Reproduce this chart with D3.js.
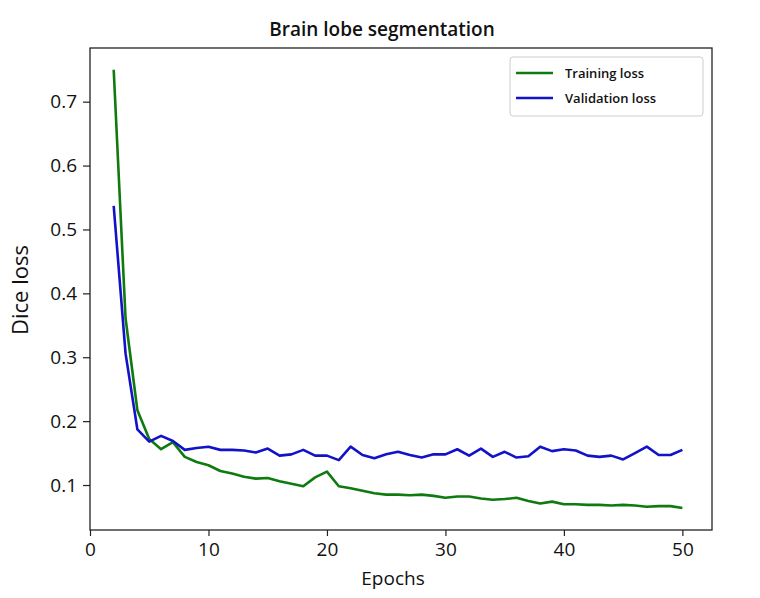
<!doctype html>
<html>
  <head>
    <meta charset="utf-8">
    <title>Brain lobe segmentation</title>
    <script src="https://cdnjs.cloudflare.com/ajax/libs/d3/7.8.5/d3.min.js"></script>
    <style>
      body { margin: 0; background: #fff; }
      text { font-family: "Open Sans", "Noto Sans", sans-serif; fill: #111; }
    </style>
  </head>
  <body>
    <div id="chart"></div>
    <script>
      // values, one per epoch (2..50)
      const epochs = d3.range(2, 51);
      const trainingLoss = [0.750, 0.361, 0.217, 0.172, 0.156, 0.167, 0.144, 0.136, 0.131, 0.122,
        0.118, 0.113, 0.110, 0.111, 0.106, 0.102, 0.098, 0.112, 0.121, 0.098,
        0.095, 0.091, 0.087, 0.085, 0.085, 0.084, 0.085, 0.083, 0.080, 0.082,
        0.082, 0.079, 0.077, 0.078, 0.080, 0.075, 0.071, 0.074, 0.070, 0.070,
        0.069, 0.069, 0.068, 0.069, 0.068, 0.066, 0.067, 0.067, 0.064];
      const validationLoss = [0.537, 0.306, 0.187, 0.168, 0.177, 0.169, 0.155, 0.158, 0.160, 0.155,
        0.155, 0.154, 0.151, 0.157, 0.146, 0.148, 0.155, 0.146, 0.146, 0.139,
        0.160, 0.147, 0.142, 0.148, 0.152, 0.147, 0.143, 0.148, 0.148, 0.156,
        0.146, 0.157, 0.144, 0.152, 0.143, 0.145, 0.160, 0.153, 0.156, 0.154,
        0.146, 0.144, 0.146, 0.140, 0.150, 0.160, 0.147, 0.147, 0.155];
      const seriesNames = ['Training loss', 'Validation loss'];
      const seriesColors = ['#0f7a0f', '#1212c8'];
      const xTicks = [0, 10, 20, 30, 40, 50];
      const yTicks = [0.1, 0.2, 0.3, 0.4, 0.5, 0.6, 0.7];

      const width = 760, height = 598;
      const margin = {top: 48, right: 48, bottom: 68, left: 90};

      const svg = d3.select('#chart')
        .append('svg')
        .attr('width', width)
        .attr('height', height);

      const x = d3.scaleLinear()
        .domain([0, 52.5])
        .range([margin.left, width - margin.right]);

      const y = d3.scaleLinear()
        .domain([0.0296, 0.784])
        .range([height - margin.bottom, margin.top]);

      // axes
      const xAxis = svg.append('g')
        .attr('transform', `translate(0,${height - margin.bottom})`)
        .call(d3.axisBottom(x).tickValues(xTicks).tickFormat(d3.format('d')).tickSizeOuter(0).tickSize(6).tickPadding(7));

      const yAxis = svg.append('g')
        .attr('transform', `translate(${margin.left},0)`)
        .call(d3.axisLeft(y).tickValues(yTicks).tickFormat(d3.format('.1f')).tickSizeOuter(0).tickSize(7).tickPadding(6));

      [xAxis, yAxis].forEach(a => {
        a.select('.domain').remove();
        a.selectAll('.tick line').attr('stroke', '#222').attr('stroke-width', 1.2);
        a.selectAll('.tick text').style('font-size', '19px').attr('fill', '#111');
      });

      // frame
      svg.append('rect')
        .attr('x', margin.left)
        .attr('y', margin.top)
        .attr('width', width - margin.left - margin.right)
        .attr('height', height - margin.top - margin.bottom)
        .attr('fill', 'none')
        .attr('stroke', '#222')
        .attr('stroke-width', 1.3);

      // lines
      const line = d3.line()
        .x((d, i) => x(epochs[i]))
        .y(d => y(d));

      [trainingLoss, validationLoss].forEach((s, k) => {
        svg.append('path')
          .datum(s)
          .attr('d', line)
          .attr('fill', 'none')
          .attr('stroke', seriesColors[k])
          .attr('stroke-width', 2.6)
          .attr('stroke-linejoin', 'round');
      });

      // title & labels
      svg.append('text')
        .attr('x', 382).attr('y', 36)
        .attr('text-anchor', 'middle')
        .style('font-size', '19px')
        .style('font-weight', 600)
        .text('Brain lobe segmentation');

      svg.append('text')
        .attr('x', 393).attr('y', 585)
        .attr('text-anchor', 'middle')
        .style('font-size', '19px')
        .text('Epochs');

      svg.append('text')
        .attr('transform', 'translate(28,290) rotate(-90)')
        .attr('text-anchor', 'middle')
        .style('font-size', '22px')
        .text('Dice loss');

      // legend
      const legend = svg.append('g').attr('transform', 'translate(510,57)');
      legend.append('rect')
        .attr('width', 193).attr('height', 59)
        .attr('rx', 3)
        .attr('fill', '#fff')
        .attr('stroke', '#ccc');

      seriesNames.forEach((name, k) => {
        legend.append('line')
          .attr('x1', 6).attr('x2', 43)
          .attr('y1', 16 + k * 25).attr('y2', 16 + k * 25)
          .attr('stroke', seriesColors[k])
          .attr('stroke-width', 2.6);
        legend.append('text')
          .attr('x', 55).attr('y', 21 + k * 25)
          .style('font-size', '13px')
          .style('font-weight', 600)
          .text(name);
      });
    </script>
  </body>
</html>
